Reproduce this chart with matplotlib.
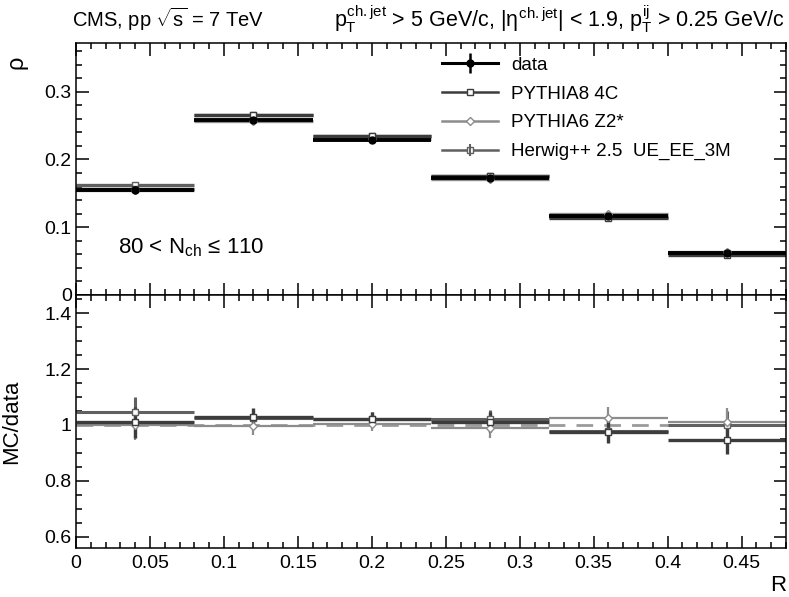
import numpy as np
from matplotlib import pyplot as plt
from matplotlib.lines import Line2D
from matplotlib.ticker import MultipleLocator

plt.rcParams.update({'font.size': 14})
plt.rcParams['font.family'] = ['Liberation Sans', 'DejaVu Sans']
plt.rcParams['mathtext.fontset'] = 'custom'
plt.rcParams['mathtext.rm'] = 'Liberation Sans'
plt.rcParams['mathtext.it'] = 'Liberation Sans'

# bins in R
r_centers = [0.04, 0.12, 0.20, 0.28, 0.36, 0.44]
r_halfwidth = [0.04, 0.04, 0.04, 0.04, 0.04, 0.04]

# rho distributions
rho_data = [0.155, 0.258, 0.229, 0.173, 0.117, 0.062]
rho_data_err = [0.004, 0.004, 0.003, 0.003, 0.003, 0.002]
rho_p8 = [0.157, 0.266, 0.234, 0.175, 0.114, 0.059]
rho_p6 = [0.155, 0.257, 0.230, 0.171, 0.120, 0.063]
rho_hw = [0.162, 0.265, 0.234, 0.176, 0.115, 0.062]

# MC/data ratios
ratio_p8 = [1.010, 1.030, 1.020, 1.010, 0.975, 0.945]
ratio_p6 = [1.000, 0.995, 1.005, 0.990, 1.025, 1.010]
ratio_hw = [1.045, 1.025, 1.020, 1.020, 0.980, 1.000]
ratio_err = [0.055, 0.030, 0.025, 0.035, 0.040, 0.050]

labels = ['data', 'PYTHIA8 4C', 'PYTHIA6 Z2*', 'Herwig++ 2.5  UE_EE_3M']
c_data, c_p8, c_p6, c_hw = 'black', '#3c3c3c', '#8c8c8c', '#606060'

fig = plt.figure(figsize=(7.89, 5.97), dpi=100)
ax1 = fig.add_axes([0.0963, 0.5059, 0.8999, 0.4221])
ax2 = fig.add_axes([0.0963, 0.0821, 0.8999, 0.4238])


def root_ticks(ax, ymaj, ymin):
    ax.xaxis.set_major_locator(MultipleLocator(0.05))
    ax.xaxis.set_minor_locator(MultipleLocator(0.01))
    ax.yaxis.set_major_locator(MultipleLocator(ymaj))
    ax.yaxis.set_minor_locator(MultipleLocator(ymin))
    ax.tick_params(which='both', direction='in', top=True, right=True, width=1.1)
    ax.tick_params(which='major', length=9)
    ax.tick_params(which='minor', length=4.5)
    ax.tick_params(axis='y', pad=3)
    ax.tick_params(axis='x', pad=5)
    for s in ax.spines.values():
        s.set_linewidth(1.1)


#Top panel : rho vs R

ax1.errorbar(r_centers, rho_hw, xerr=r_halfwidth, fmt='s', color=c_hw, ms=5,
             mfc='white', mec=c_hw, elinewidth=2.4)
ax1.errorbar(r_centers, rho_p6, xerr=r_halfwidth, fmt='D', color=c_p6, ms=4,
             mfc='white', mec=c_p6, elinewidth=2.4)
ax1.errorbar(r_centers, rho_p8, xerr=r_halfwidth, fmt='s', color=c_p8, ms=5,
             mfc='white', mec=c_p8, elinewidth=2.4)
ax1.errorbar(r_centers, rho_data, xerr=r_halfwidth, yerr=rho_data_err, fmt='o',
             color=c_data, ms=5, elinewidth=2.8)
ax1.set_xlim(0, 0.48)
ax1.set_ylim(0, 0.372)
root_ticks(ax1, 0.1, 0.02)
ax1.set_yticks([0, 0.1, 0.2, 0.3])
ax1.set_yticklabels(['0', '0.1', '0.2', '0.3'])
ax1.tick_params(axis='x', labelbottom=False)
ax1.set_ylabel('ρ', loc='top', fontsize=17)
ax1.yaxis.set_label_coords(-0.068, 0.95)
ax1.text(0.059, 0.165, r'80 < N$_{ch}$ ≤ 110', transform=ax1.transAxes, fontsize=16)

h_data = (Line2D([], [], color=c_data, lw=2.2, marker='o', ms=5),
          Line2D([], [], color=c_data, ls='none', marker='|', ms=14, mew=1.8))
h_p8 = Line2D([], [], color=c_p8, lw=1.8, marker='s', ms=5, mfc='white')
h_p6 = Line2D([], [], color=c_p6, lw=1.8, marker='D', ms=4, mfc='white')
h_hw = (Line2D([], [], color=c_hw, lw=1.8, marker='s', ms=5, mfc='white'),
        Line2D([], [], color=c_hw, ls='none', marker='|', ms=9, mew=1.5))
ax1.legend([h_data, h_p8, h_p6, h_hw], labels, loc='upper left',
           bbox_to_anchor=(0.515, 0.945), frameon=False, fontsize=13.5,
           handlelength=3.0, handletextpad=0.7, labelspacing=0.62, borderpad=0,
           borderaxespad=0)

#Bottom panel : MC/data vs R

ax2.axhline(1.0, color='#9a9a9a', lw=2, ls=(0, (6, 4)), zorder=1)
ax2.errorbar(r_centers, ratio_hw, xerr=r_halfwidth, yerr=ratio_err, fmt='s', color=c_hw,
             ms=5, mfc='white', mec=c_hw, elinewidth=2.2)
ax2.errorbar(r_centers, ratio_p6, xerr=r_halfwidth, yerr=ratio_err, fmt='D', color=c_p6,
             ms=4, mfc='white', mec=c_p6, elinewidth=1.6)
ax2.errorbar(r_centers, ratio_p8, xerr=r_halfwidth, yerr=ratio_err, fmt='s', color=c_p8,
             ms=5, mfc='white', mec=c_p8, elinewidth=2.4)
ax2.set_xlim(0, 0.48)
ax2.set_ylim(0.56, 1.465)
root_ticks(ax2, 0.2, 0.05)
ax2.set_yticks([0.6, 0.8, 1.0, 1.2, 1.4])
ax2.set_yticklabels(['0.6', '0.8', '1', '1.2', '1.4'])
ax2.set_xticks([0, 0.05, 0.1, 0.15, 0.2, 0.25, 0.3, 0.35, 0.4, 0.45])
ax2.set_xticklabels(['0', '0.05', '0.1', '0.15', '0.2', '0.25', '0.3', '0.35', '0.4', '0.45'])
ax2.set_ylabel('MC/data', fontsize=16)
ax2.yaxis.set_label_coords(-0.076, 0.5)
ax2.set_xlabel('R', loc='right', fontsize=16, labelpad=2)

fig.text(72 / 789, 1 - 19 / 597, r'CMS, pp $\sqrt{s}$ = 7 TeV', fontsize=14.5, va='center')
fig.text(785 / 789, 1 - 19 / 597,
         r'$p_T^{\mathrm{ch.jet}}$ > 5 GeV/c, |$\eta^{\mathrm{ch.jet}}$| < 1.9, $p_T^{ij}$ > 0.25 GeV/c',
         fontsize=15.5, va='center', ha='right')

fig.savefig('out.png', dpi=100)
